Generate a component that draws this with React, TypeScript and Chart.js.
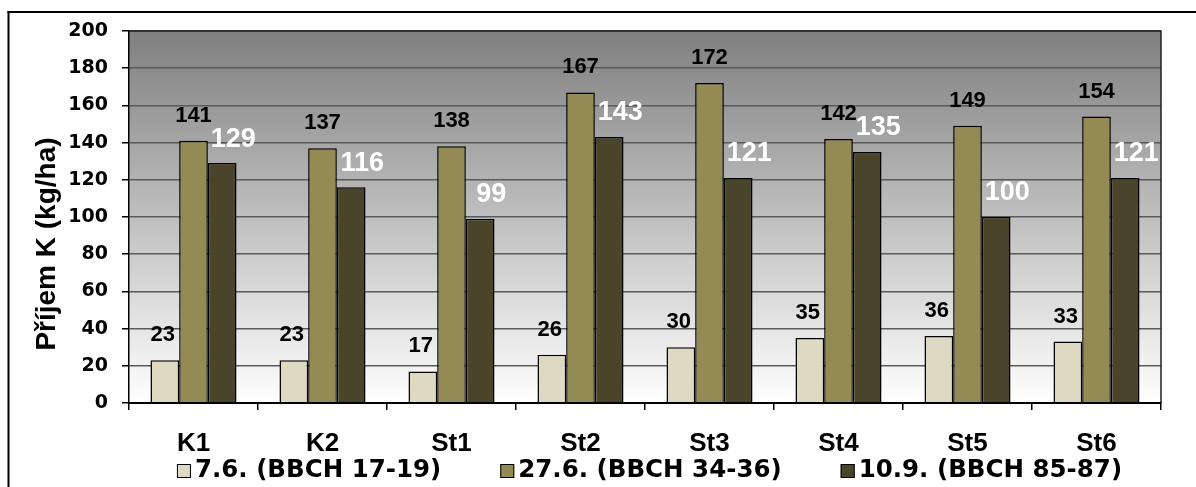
import { useEffect, useRef } from "react";
import { Chart, registerables } from "chart.js";

Chart.register(...registerables);

// Sampling sites
const categories = ["K1", "K2", "St1", "St2", "St3", "St4", "St5", "St6"];

// Sampling dates (growth stage)
const seriesNames = ["7.6. (BBCH 17-19)", "27.6. (BBCH 34-36)", "10.9. (BBCH 85-87)"];

// Potassium uptake, kg/ha
const uptakeJune7 = [23, 23, 17, 26, 30, 35, 36, 33];
const uptakeJune27 = [141, 137, 138, 167, 172, 142, 149, 154];
const uptakeSept10 = [129, 116, 99, 143, 121, 135, 100, 121];

// Value axis
const yMin = 0;
const yMax = 200;
const yStep = 20;
const yAxisTitle = "Příjem K (kg/ha)";

const seriesColors = ["#DDD9C3", "#948A54", "#4A452A"];

const ARIAL = '"Liberation Sans", Arial, sans-serif';
const WIDE = '"DejaVu Sans", "Liberation Sans", sans-serif';

// Value label appearance per series
const labelStyles = [
  { color: "#000000", font: `bold 22px ${ARIAL}`, dx: -2, dy: -25 },
  { color: "#000000", font: `bold 22px ${ARIAL}`, dx: 0, dy: -25 },
  { color: "#FFFFFF", font: `bold 27px ${ARIAL}`, dx: 11, dy: -24 },
];

const backdropPlugin = {
  id: "backdrop",
  beforeDraw(chart: any) {
    const { ctx, chartArea: a, width, height } = chart;
    ctx.save();
    ctx.fillStyle = "#ffffff";
    ctx.fillRect(0, 0, width, height);
    // outer frame (left and top edges)
    ctx.fillStyle = "#000000";
    ctx.fillRect(7.5, 11, 2, height);
    ctx.fillRect(7.5, 11, width, 2);
    // plot area gradient
    const g = ctx.createLinearGradient(0, a.top, 0, a.bottom);
    g.addColorStop(0, "#7f7f7f");
    g.addColorStop(1, "#ffffff");
    ctx.fillStyle = g;
    ctx.fillRect(a.left, a.top, a.right - a.left, a.bottom - a.top);
    ctx.restore();
  },
};

const overlayPlugin = {
  id: "overlay",
  afterDatasetsDraw(chart: any) {
    const { ctx, chartArea: a } = chart;
    ctx.save();
    // plot border top/right
    ctx.strokeStyle = "#222222";
    ctx.lineWidth = 1.5;
    ctx.beginPath();
    ctx.moveTo(a.left, a.top);
    ctx.lineTo(a.right, a.top);
    ctx.lineTo(a.right, a.bottom);
    ctx.stroke();
    // category axis line
    ctx.strokeStyle = "#000000";
    ctx.lineWidth = 2;
    ctx.beginPath();
    ctx.moveTo(a.left, a.bottom);
    ctx.lineTo(a.right, a.bottom);
    ctx.stroke();

    // value labels
    ctx.textAlign = "center";
    ctx.textBaseline = "middle";
    chart.data.datasets.forEach((ds: any, i: number) => {
      const st = labelStyles[i];
      const meta = chart.getDatasetMeta(i);
      ctx.font = st.font;
      ctx.fillStyle = st.color;
      meta.data.forEach((bar: any, j: number) => {
        ctx.fillText(String(ds.data[j]), bar.x + st.dx, bar.y + st.dy);
      });
    });
    ctx.restore();
  },
  afterDraw(chart: any) {
    const { ctx } = chart;
    ctx.save();
    // value axis title
    ctx.translate(55, 244);
    ctx.rotate(-Math.PI / 2);
    ctx.font = `bold 28px ${ARIAL}`;
    ctx.fillStyle = "#000000";
    ctx.textAlign = "center";
    ctx.textBaseline = "alphabetic";
    ctx.fillText(yAxisTitle, 0, 0);
    ctx.restore();

    // legend
    ctx.save();
    ctx.font = `bold 24.5px ${WIDE}`;
    ctx.textBaseline = "middle";
    ctx.textAlign = "left";
    const box = 14;
    const boxGap = 4;
    const itemGap = 59;
    const items = chart.data.datasets.map((ds: any) => ({
      text: ds.label,
      color: ds.backgroundColor,
      w: box + boxGap + ctx.measureText(ds.label).width,
    }));
    const total = items.reduce((s: number, it: any) => s + it.w, 0) + itemGap * (items.length - 1);
    let x = 649.5 - total / 2;
    const cy = 471;
    items.forEach((it: any) => {
      ctx.fillStyle = it.color;
      ctx.fillRect(x, cy - box / 2, box, box);
      ctx.strokeStyle = "#000000";
      ctx.lineWidth = 1;
      ctx.strokeRect(x + 0.5, cy - box / 2 + 0.5, box - 1, box - 1);
      ctx.fillStyle = "#000000";
      ctx.fillText(it.text, x + box + boxGap, cy);
      x += it.w + itemGap;
    });
    ctx.restore();
  },
};

export default function App() {
  const canvasRef = useRef<HTMLCanvasElement | null>(null);

  useEffect(() => {
    const canvas = canvasRef.current;
    if (!canvas) return;
    const series = [uptakeJune7, uptakeJune27, uptakeSept10];
    const chart = new Chart(canvas, {
      type: "bar",
      data: {
        labels: categories,
        datasets: series.map((values, i) => ({
          label: seriesNames[i],
          data: values,
          backgroundColor: seriesColors[i],
          borderColor: "#000000",
          borderWidth: 1.5,
          borderSkipped: "start",
          categoryPercentage: 0.667,
          barPercentage: 1.0,
        })),
      },
      options: {
        responsive: false,
        animation: false,
        devicePixelRatio: 1,
        layout: { padding: { top: 31, right: 35, left: 0, bottom: 0 } },
        plugins: {
          legend: { display: false },
          title: { display: false },
          tooltip: { enabled: false },
        },
        scales: {
          x: {
            afterFit(scale: any) {
              scale.height = 84;
            },
            grid: {
              offset: true,
              drawOnChartArea: false,
              drawTicks: true,
              tickLength: 7,
              color: "#000000",
              lineWidth: 1.5,
            },
            border: { display: true, color: "#000000", width: 2 },
            ticks: {
              color: "#000000",
              font: { family: ARIAL, size: 26, weight: "bold" },
              padding: 18,
              maxRotation: 0,
              autoSkip: false,
            },
          },
          y: {
            min: yMin,
            max: yMax,
            afterFit(scale: any) {
              scale.width = 129;
            },
            grid: {
              color: "#5a5a5a",
              lineWidth: 1.5,
              borderDash: [8, 5],
              drawTicks: true,
              tickLength: 7,
              tickColor: "#000000",
              tickWidth: 1.5,
              tickBorderDash: [],
            },
            border: { display: true, color: "#000000", width: 1.5 },
            ticks: {
              stepSize: yStep,
              color: "#000000",
              font: { family: WIDE, size: 19, weight: "bold" },
              padding: 14,
            },
            title: { display: false },
          },
        },
      },
      plugins: [backdropPlugin, overlayPlugin],
    } as any);
    return () => chart.destroy();
  }, []);

  return (
    <div
      style={{
        position: "fixed",
        left: 0,
        top: 0,
        width: 1196,
        height: 487,
        overflow: "hidden",
        background: "#ffffff",
      }}
    >
      <canvas ref={canvasRef} width={1196} height={487} style={{ display: "block" }} />
    </div>
  );
}
